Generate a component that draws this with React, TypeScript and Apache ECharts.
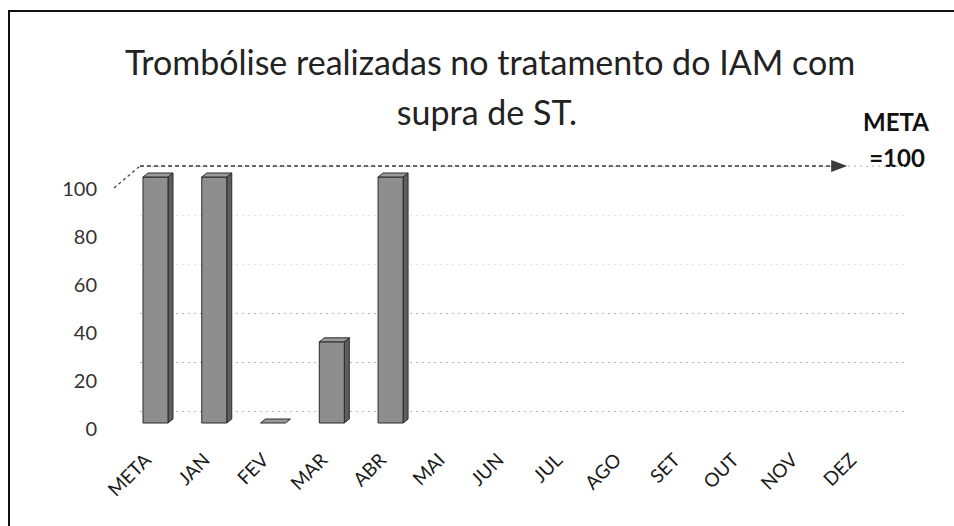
import React, { useEffect, useRef } from "react";
import * as echarts from "echarts";

const categories = ["META", "JAN", "FEV", "MAR", "ABR", "MAI", "JUN", "JUL", "AGO", "SET", "OUT", "NOV", "DEZ"];
const values: (number | null)[] = [100, 100, 0, 33, 100, null, null, null, null, null, null, null, null];
const yMin = 0;
const yMax = 100;
const yInterval = 20;
const metaValue = 100;
const titleLines = ["Trombólise realizadas no tratamento do IAM com", "supra de ST."];
const metaLabel = ["META", "=" + metaValue];

const FONT = "Lato, 'Open Sans', sans-serif";

export default function App() {
  const ref = useRef<HTMLDivElement>(null);
  useEffect(() => {
    if (!ref.current) return;
    const chart = echarts.init(ref.current, undefined, { renderer: "svg" });
    const barData = values.map((v, i) => [i, v]);
    const option: any = {
      animation: false,
      backgroundColor: "#ffffff",
      grid: [
        { left: 140, right: 49, top: 166, bottom: 115 },
        { left: 105, right: 49, top: 188, bottom: 98 },
        { left: 128.6, right: 61.4, top: 177, bottom: 103 },
        { left: 117.6, right: 72.4, top: 100, bottom: 80 },
      ],
      xAxis: [
        { gridIndex: 0, type: "value", min: 0, max: 1, show: false },
        { gridIndex: 1, type: "value", min: 0, max: 1, show: false },
        { gridIndex: 2, type: "category", data: categories, show: false },
        {
          gridIndex: 3,
          type: "category",
          data: categories,
          axisLine: { show: false },
          axisTick: { show: false },
          axisLabel: { rotate: 45, margin: 10, fontFamily: FONT, fontSize: 19, color: "#1a1a1a", interval: 0 },
        },
      ],
      yAxis: [
        {
          gridIndex: 0,
          type: "value",
          min: yMin,
          max: yMax,
          interval: yInterval,
          axisLine: { show: false },
          axisTick: { show: false },
          axisLabel: { show: false },
          splitLine: {
            show: true,
            lineStyle: {
              type: [2, 4],
              width: 1,
              color: ["#b5b5b5", "#b5b5b5", "#b5b5b5", "#e2e2e2", "#e2e2e2", "#c8c8c8"],
            },
          },
        },
        {
          gridIndex: 1,
          type: "value",
          min: yMin,
          max: yMax,
          interval: yInterval,
          axisLine: { show: false },
          axisTick: { show: false },
          splitLine: { show: false },
          axisLabel: { margin: 8, fontFamily: FONT, fontSize: 20, color: "#333" },
        },
        { gridIndex: 2, type: "value", min: yMin, max: yMax, show: false, splitLine: { show: false } },
        { gridIndex: 3, type: "value", min: 0, max: 1, show: false, splitLine: { show: false } },
      ],
      series: [
        {
          type: "line",
          xAxisIndex: 0,
          yAxisIndex: 0,
          data: [],
          silent: true,
          markLine: {
            silent: true,
            symbol: ["none", "triangle"],
            symbolSize: [12, 16],
            symbolRotate: -90,
            label: { show: false },
            lineStyle: { color: "#3a3a3a", type: [4, 3], width: 1.5 },
            data: [[{ coord: [0, metaValue] }, { coord: [0.914, metaValue] }]],
          },
        },
        {
          type: "custom",
          xAxisIndex: 2,
          yAxisIndex: 2,
          data: barData,
          encode: { x: 0, y: 1 },
          renderItem: (params: any, api: any) => {
            const v = api.value(1);
            if (v === null || v === undefined || isNaN(v)) return null;
            const top = api.coord([api.value(0), v]);
            const base = api.coord([api.value(0), 0]);
            const w = 25;
            const d = 5;
            const dy = 4;
            const x0 = top[0] - 2.5 - w / 2;
            const x1 = x0 + w;
            const yT = top[1];
            const yB = base[1];
            const stroke = "#2a2a2a";
            const children: any[] = [];
            if (yB - yT > 0.5) {
              children.push({
                type: "polygon",
                shape: { points: [[x1, yT], [x1 + d, yT - dy], [x1 + d, yB - dy], [x1, yB]] },
                style: { fill: "#5e5e5e", stroke, lineWidth: 1 },
              });
              children.push({
                type: "rect",
                shape: { x: x0, y: yT, width: w, height: yB - yT },
                style: { fill: "#8e8e8e", stroke, lineWidth: 1 },
              });
            }
            children.push({
              type: "polygon",
              shape: { points: [[x0, yT], [x0 + d, yT - dy], [x1 + d, yT - dy], [x1, yT]] },
              style: { fill: "#9a9a9a", stroke, lineWidth: 1 },
            });
            return { type: "group", children };
          },
        },
      ],
      graphic: [
        {
          type: "rect",
          shape: { x: 9, y: 11, width: 1000, height: 600 },
          style: { fill: "none", stroke: "#111", lineWidth: 2 },
          silent: true,
        },
        {
          type: "line",
          shape: { x1: 114, y1: 188, x2: 140, y2: 166 },
          style: { stroke: "#3a3a3a", lineWidth: 1.2, lineDash: [3, 3] },
          silent: true,
        },
        {
          type: "line",
          shape: { x1: 848, y1: 166, x2: 905, y2: 166 },
          style: { stroke: "#b8b8b8", lineWidth: 1, lineDash: [2, 4] },
          silent: true,
        },
        {
          type: "text",
          x: 490,
          y: 61,
          style: { text: titleLines[0], font: `34px ${FONT}`, fill: "#222", textAlign: "center", textVerticalAlign: "middle" },
        },
        {
          type: "text",
          x: 487,
          y: 111,
          style: { text: titleLines[1], font: `34px ${FONT}`, fill: "#222", textAlign: "center", textVerticalAlign: "middle" },
        },
        {
          type: "text",
          x: 896,
          y: 121,
          style: { text: metaLabel[0], font: `bold 24px ${FONT}`, fill: "#111", textAlign: "center", textVerticalAlign: "middle" },
        },
        {
          type: "text",
          x: 897,
          y: 157,
          style: { text: metaLabel[1], font: `bold 24px ${FONT}`, fill: "#111", textAlign: "center", textVerticalAlign: "middle" },
        },
      ],
    };
    chart.setOption(option);
    return () => chart.dispose();
  }, []);
  return (
    <div
      ref={ref}
      style={{ position: "absolute", left: 0, top: 0, width: 954, height: 526, background: "#fff" }}
    />
  );
}
